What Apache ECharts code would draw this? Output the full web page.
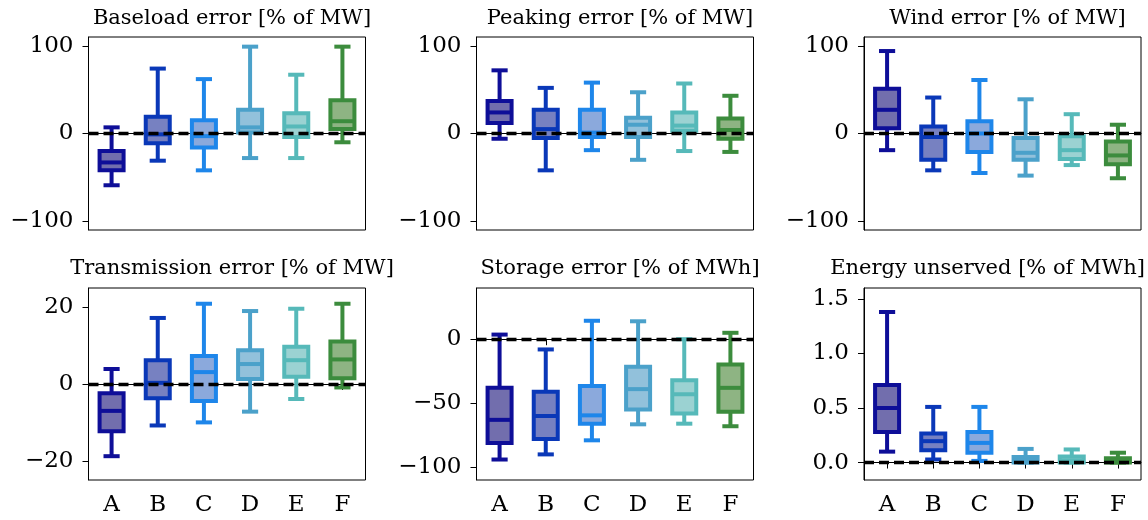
<!DOCTYPE html>
<html>
<head>
<meta charset="utf-8">
<script src="https://cdn.jsdelivr.net/npm/echarts@6/dist/echarts.min.js"></script>
<style>
html,body{margin:0;padding:0;background:#fff;}
#chart{width:1148px;height:520px;}
</style>
</head>
<body>
<div id="chart"></div>
<script>
// Categories
const categories = ['A', 'B', 'C', 'D', 'E', 'F'];

// Box statistics per category: [min, q1, median, q3, max]
const baseload = [[-59, -42, -33, -20, 7], [-31, -11, -1, 19, 74], [-42, -16, -3, 15, 62], [-28, 1, 7, 27, 99], [-28, -4, 8, 23, 67], [-10, 5, 14, 38, 99]];
const peaking = [[-6, 12, 24, 37, 72], [-42, -5, 5, 27, 52], [-19, -4, 1, 27, 58], [-30, -4, 10, 18, 47], [-20, 3, 9, 24, 57], [-21, -6, 4, 17, 43]];
const wind = [[-19, 6, 27, 51, 94], [-42, -30, -4, 8, 41], [-45, -21, 0, 14, 61], [-48, -30, -22, -5, 39], [-36, -29, -19, -3, 22], [-51, -35, -25, -9, 10]];
const transmission = [[-18.8, -12.3, -7, -2.4, 3.9], [-10.8, -3.7, 0.3, 6.2, 17.2], [-10, -4.4, 3.1, 7.3, 20.9], [-7.2, 1.3, 5.2, 8.8, 19], [-3.9, 1.9, 6.2, 9.7, 19.6], [-0.9, 1.5, 6.4, 11.1, 20.9]];
const storage = [[-94, -81, -63, -38, 3.6], [-90, -78, -60, -41, -8], [-79, -66, -59.5, -36.6, 14.4], [-66.5, -55, -39, -21.6, 14], [-66, -58, -43, -32, 0], [-68, -56.6, -38, -19.7, 5]];
const unserved = [[0.10, 0.28, 0.50, 0.71, 1.38], [0.028, 0.113, 0.196, 0.266, 0.51], [0.015, 0.089, 0.18, 0.28, 0.51], [0, 0.0, 0.02, 0.05, 0.125], [0, 0.0, 0.02, 0.055, 0.12], [0, 0.0, 0.015, 0.04, 0.09]];

// Titles and y tick labels
const titles = ['Baseload error [% of MW]', 'Peaking error [% of MW]', 'Wind error [% of MW]', 'Transmission error [% of MW]', 'Storage error [% of MWh]', 'Energy unserved [% of MWh]'];
const ticks1 = [-100, 0, 100];
const ticks4 = [-20, 0, 20];
const ticks5 = [-100, -50, 0];
const ticks6 = [0, 0.5, 1.0, 1.5];

const panels = [
  { data: baseload, ymin: -110, ymax: 110, ticks: ticks1, dec: 0 },
  { data: peaking, ymin: -110, ymax: 110, ticks: ticks1, dec: 0 },
  { data: wind, ymin: -110, ymax: 110, ticks: ticks1, dec: 0 },
  { data: transmission, ymin: -25, ymax: 25, ticks: ticks4, dec: 0 },
  { data: storage, ymin: -110, ymax: 40, ticks: ticks5, dec: 0 },
  { data: unserved, ymin: -0.16, ymax: 1.6, ticks: ticks6, dec: 1 }
];

const strokeColors = ['#0e0e98', '#0a38b8', '#1e86ea', '#4ba1ca', '#56b9b9', '#3c8c3d'];
const fillColors = ['#726ead', '#7781c1', '#8ba9dc', '#92c1db', '#9bd2d2', '#8eb483'];

const FONT = 'DejaVu Serif';
const gridLefts = [88.5, 476.5, 864];
const gridTops = [37, 288];
const gridW = 277;
const titleCenters = [227, 615, 1002.5, 227, 615, 982.5];

const grids = [], xAxes = [], yAxes = [], series = [], titleOpts = [];
panels.forEach((p, i) => {
  const col = i % 3, row = Math.floor(i / 3);
  const left = gridLefts[col], top = gridTops[row];
  grids.push({ left: left, top: top, width: gridW, height: row === 0 ? 193 : 192, show: true, borderColor: '#000', borderWidth: 1, containLabel: false });
  titleOpts.push({
    text: titles[i], left: titleCenters[i], top: row === 0 ? 3 : 253, textAlign: 'center',
    textStyle: { fontFamily: FONT, fontSize: 21, fontWeight: 'normal', color: '#000' }
  });
  xAxes.push({
    type: 'category', gridIndex: i, data: categories, boundaryGap: true,
    axisLine: { show: true, lineStyle: { color: '#000', width: 1 } },
    axisTick: { show: true, alignWithLabel: true, length: 6, lineStyle: { color: '#000', width: 1 } },
    axisLabel: { show: row === 1, fontFamily: FONT, fontSize: 23, color: '#000', margin: 14 },
    splitLine: { show: false }
  });
  yAxes.push({
    type: 'value', gridIndex: i, min: p.ymin, max: p.ymax,
    axisLine: { show: true, lineStyle: { color: '#000', width: 1 } },
    axisTick: { show: true, length: 6, customValues: p.ticks, lineStyle: { color: '#000', width: 1 } },
    axisLabel: {
      customValues: p.ticks, fontFamily: FONT, fontSize: 23, color: '#000', margin: 15,
      formatter: v => v.toFixed(p.dec).replace('-', '\u2212')
    },
    splitLine: { show: false }
  });
  series.push({
    type: 'custom', xAxisIndex: i, yAxisIndex: i, z: 2,
    data: p.data.map((v, j) => [j].concat(v)),
    encode: { x: 0, y: [1, 2, 3, 4, 5] },
    renderItem: function (params, api) {
      const j = api.value(0);
      const c = strokeColors[j], f = fillColors[j];
      const pMin = api.coord([j, api.value(1)]);
      const pQ1 = api.coord([j, api.value(2)]);
      const pMed = api.coord([j, api.value(3)]);
      const pQ3 = api.coord([j, api.value(4)]);
      const pMax = api.coord([j, api.value(5)]);
      const band = api.size([1, 0])[0];
      const bw = band * 0.52, cw = band * 0.35, lw = 4;
      const x = pMed[0];
      const ls = { stroke: c, lineWidth: lw };
      return {
        type: 'group', children: [
          { type: 'line', shape: { x1: x, y1: pQ3[1], x2: x, y2: pMax[1] }, style: ls },
          { type: 'line', shape: { x1: x, y1: pMin[1], x2: x, y2: pQ1[1] }, style: ls },
          { type: 'line', shape: { x1: x - cw / 2, y1: pMax[1], x2: x + cw / 2, y2: pMax[1] }, style: ls },
          { type: 'line', shape: { x1: x - cw / 2, y1: pMin[1], x2: x + cw / 2, y2: pMin[1] }, style: ls },
          { type: 'rect', shape: { x: x - bw / 2, y: pQ3[1], width: bw, height: pQ1[1] - pQ3[1] }, style: { fill: f, stroke: c, lineWidth: lw } },
          { type: 'line', shape: { x1: x - bw / 2, y1: pMed[1], x2: x + bw / 2, y2: pMed[1] }, style: ls }
        ]
      };
    }
  });
  series.push({
    type: 'line', xAxisIndex: i, yAxisIndex: i, data: [], z: 10, silent: true,
    markLine: {
      silent: true, symbol: 'none', animation: false,
      label: { show: false },
      lineStyle: { color: '#000', type: [10, 5], width: 3.4 },
      emphasis: { disabled: true },
      data: [{ yAxis: 0 }]
    }
  });
});

const chart = echarts.init(document.getElementById('chart'), null, { renderer: 'canvas' });
chart.setOption({
  animation: false,
  backgroundColor: '#fff',
  title: titleOpts,
  grid: grids,
  xAxis: xAxes,
  yAxis: yAxes,
  series: series
});
</script>
</body>
</html>
